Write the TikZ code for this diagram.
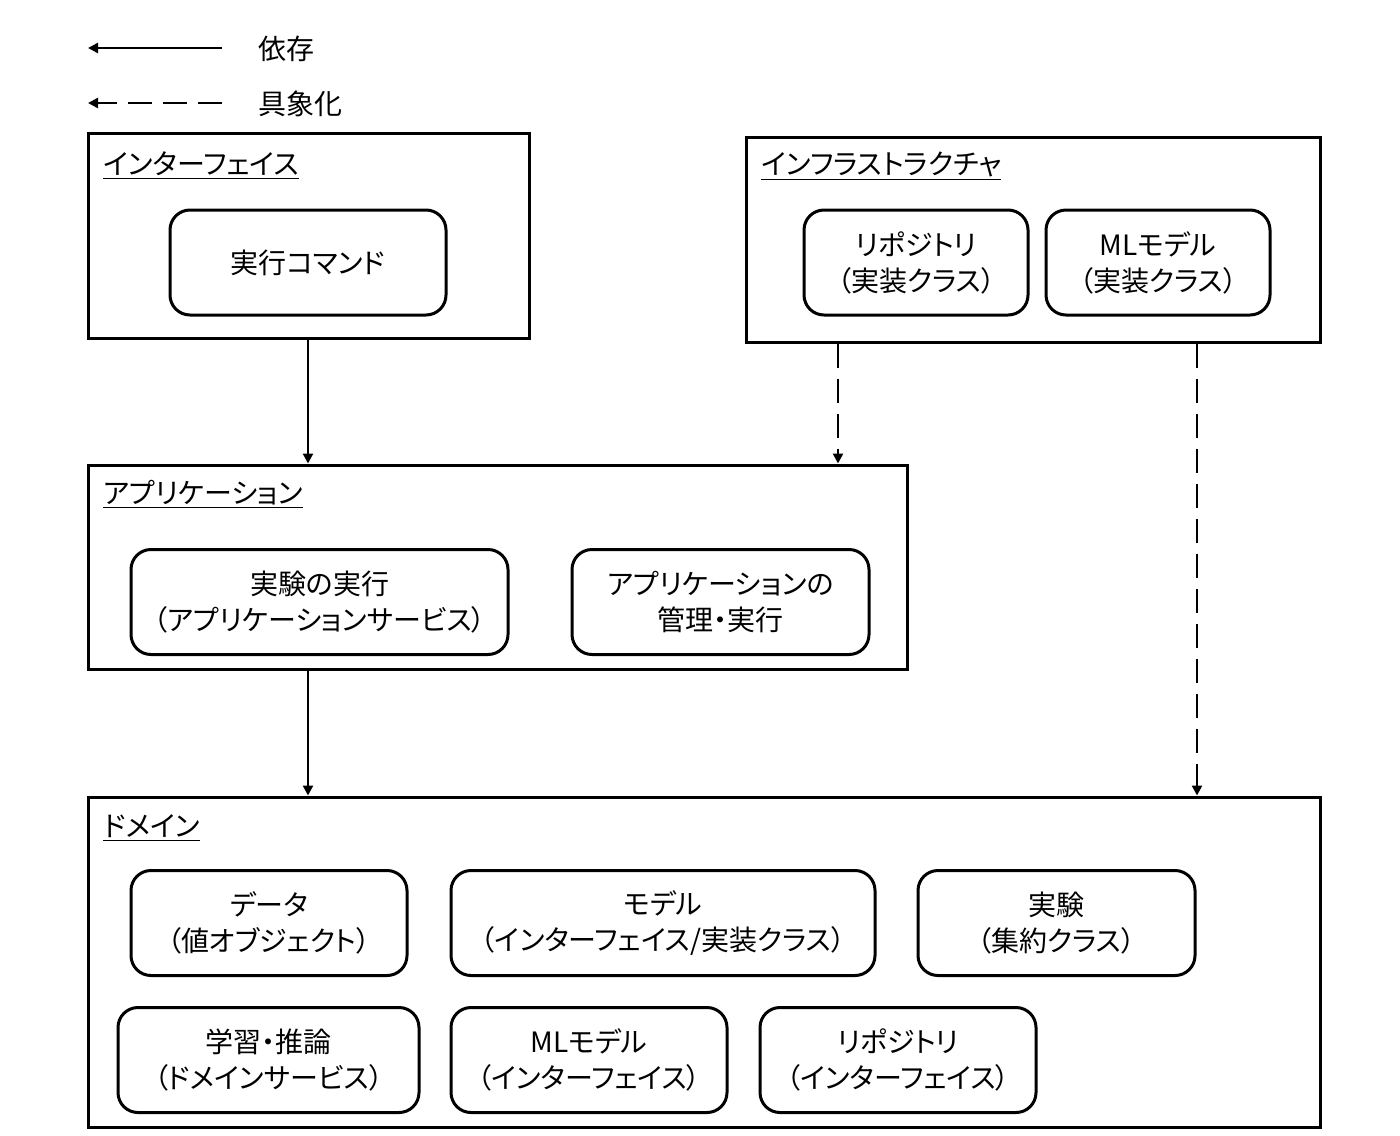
\documentclass[tikz,border=0pt]{standalone}
\usepackage{fontspec}
\setmainfont{Noto Sans CJK JP}[RawFeature=+palt]
\usetikzlibrary{positioning, fit, arrows.meta}

\begin{document}
\begin{tikzpicture}[x=0.5pt, y=-0.5pt, font=\fontsize{14}{18}\selectfont,
		layer/.style={draw, line width=1.5pt, inner sep=0pt},
		blk/.style={draw, line width=1.5pt, rounded corners=10pt, inner sep=0pt, align=center, minimum height=52.5pt},
		ttl/.style={anchor=base west, inner sep=0pt},
		dep/.style={-{Triangle[length=5pt, width=5pt]}, line width=1.2pt},
		real/.style={dep, dash pattern=on 12pt off 5.5pt}]
		\useasboundingbox (0,0) rectangle (1400,1135);
		% legend
		\coordinate (L1a) at (88,48);
		\coordinate (L1b) at (222,48);
		\coordinate (L2a) at (88,103);
		\coordinate (L2b) at (222,103);
		\draw[dep] (L1b) -- (L1a);
		\draw[real] (L2b) -- (L2a);
		\node[ttl] (Ldep) at (258,59) {依存};
		\node[ttl] (Lreal) at (258,114) {具象化};
		% interface
		\node[layer, fit={(88,133) (529,338)}] (IF) {};
		\node[ttl] (IFt) at (103,174) {\underline{インターフェイス}};
		\node[blk, minimum width=138pt] (cmd) at (308,262.5) {実行コマンド};
		% infrastructure
		\node[layer, fit={(746,137) (1320,342)}] (IS) {};
		\node[ttl] (ISt) at (761,174) {\underline{インフラストラクチャ}};
		\node[blk, minimum width=112pt] (repo) at (916,262.5) {リポジトリ\\（実装クラス）};
		\node[blk, minimum width=112pt] (ml) at (1158,262.5) {MLモデル\\（実装クラス）};
		% application
		\node[layer, fit={(88,465) (907,669)}] (AP) {};
		\node[ttl] (APt) at (103,503) {\underline{アプリケーション}};
		\node[blk, minimum width=188.5pt] (run) at (319.5,602) {実験の実行\\（アプリケーションサービス）};
		\node[blk, minimum width=148.5pt] (mgr) at (720.5,602) {アプリケーションの\\管理・実行};
		% domain
		\node[layer, fit={(88,797) (1320,1127)}] (DM) {};
		\node[ttl] (DMt) at (103,836) {\underline{ドメイン}};
		\node[blk, minimum width=138pt] (data) at (269,923) {データ\\（値オブジェクト）};
		\node[blk, minimum width=212pt] (model) at (663,923) {モデル\\（インターフェイス/実装クラス）};
		\node[blk, minimum width=138.5pt] (expt) at (1056.5,923) {実験\\（集約クラス）};
		\node[blk, minimum width=150.5pt] (learn) at (268.5,1060) {学習・推論\\（ドメインサービス）};
		\node[blk, minimum width=138pt] (mlif) at (589,1060) {MLモデル\\（インターフェイス）};
		\node[blk, minimum width=138pt] (repoif) at (898,1060) {リポジトリ\\（インターフェイス）};
		% connectors
		\coordinate (X1) at (308,0);
		\coordinate (X2) at (838,0);
		\coordinate (X3) at (1197,0);
		\draw[dep] (IF.south -| X1) -- (AP.north -| X1);
		\draw[dep] (AP.south -| X1) -- (DM.north -| X1);
		\draw[real] (IS.south -| X2) -- (AP.north -| X2);
		\draw[real] (IS.south -| X3) -- (DM.north -| X3);
	\end{tikzpicture}
\end{document}
